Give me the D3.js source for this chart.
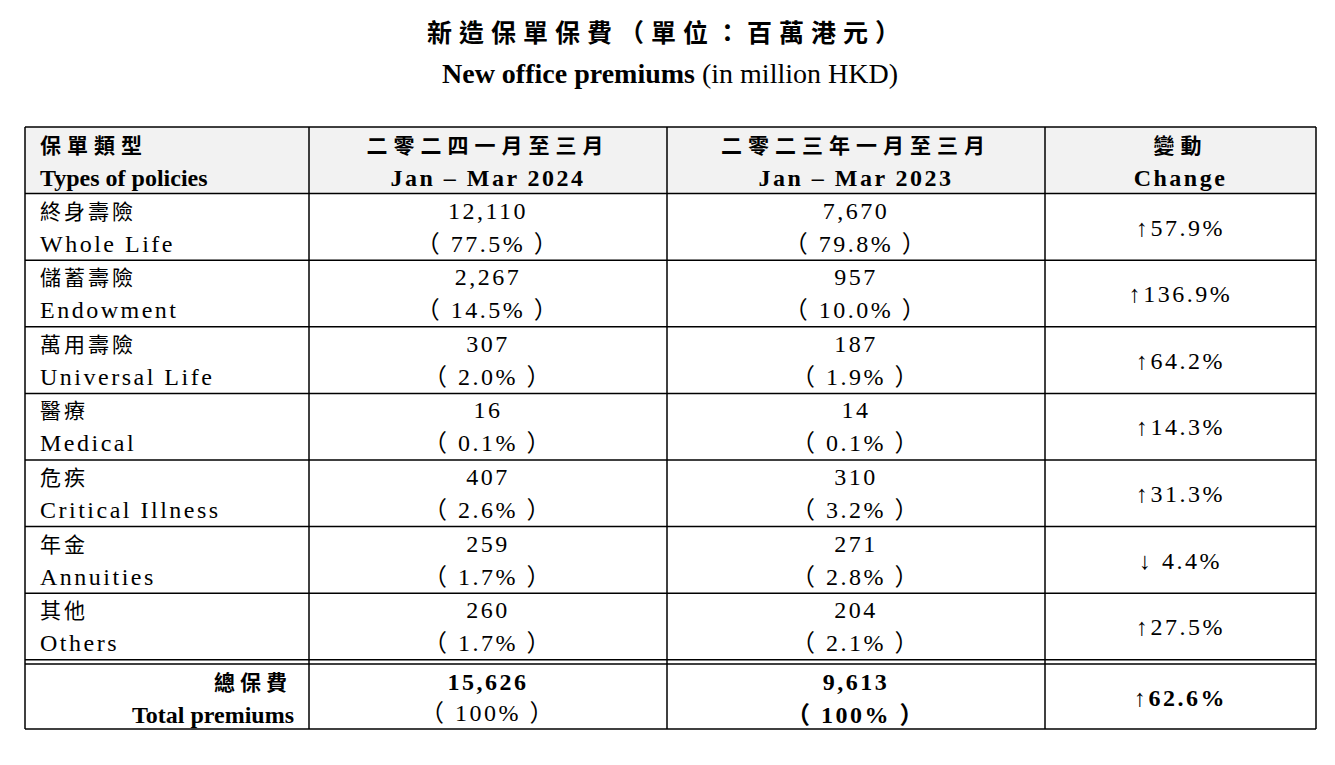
<!DOCTYPE html>
<html><head><meta charset="utf-8">
<script src="https://cdn.jsdelivr.net/npm/d3@7"></script>
<style>
body{margin:0;background:#fff}
text{font-family:"Liberation Serif","Noto Sans CJK TC",serif;fill:#000}
</style></head><body>
<svg id="c" width="1335" height="765"></svg>
<script>
// data
var typesZh = ["終身壽險","儲蓄壽險","萬用壽險","醫療","危疾","年金","其他"];
var typesEn = ["Whole Life","Endowment","Universal Life","Medical","Critical Illness","Annuities","Others"];
var prem2024 = [12110, 2267, 307, 16, 407, 259, 260];
var share2024 = ["77.5%","14.5%","2.0%","0.1%","2.6%","1.7%","1.7%"];
var prem2023 = [7670, 957, 187, 14, 310, 271, 204];
var share2023 = ["79.8%","10.0%","1.9%","0.1%","3.2%","2.8%","2.1%"];
var changes = ["↑57.9%","↑136.9%","↑64.2%","↑14.3%","↑31.3%","↓ 4.4%","↑27.5%"];
var total2024 = 15626, total2023 = 9613, totalChange = "↑62.6%";
var headZh = ["保單類型","二零二四一月至三月","二零二三年一月至三月","變動"];
var headEn = ["Types of policies","Jan – Mar 2024","Jan – Mar 2023","Change"];

var svg = d3.select("#c");
var fmt = d3.format(",");
var colX = [25, 309, 667, 1045, 1316];
var rowY = d3.range(9).map(function(i){ return 127 + i * 66.6; });
var totalTop = 664, bottom = 729;
var mid = function(i){ return (colX[i] + colX[i+1]) / 2; };
var paren = function(s){ return "（ " + s + " ）"; };

svg.append("text").attr("x", 667).attr("y", 42).attr("text-anchor","middle")
  .style("font-size","25px").style("font-weight","bold").style("letter-spacing","7px")
  .style("font-family","'Noto Sans CJK TC'").text("新造保單保費（單位：百萬港元）");
var t2 = svg.append("text").attr("x", 670).attr("y", 83).attr("text-anchor","middle").style("font-size","28px");
t2.append("tspan").style("font-weight","bold").text("New office premiums");
t2.append("tspan").text(" (in million HKD)");

svg.append("rect").attr("x", colX[0]).attr("y", rowY[0]).attr("width", colX[4]-colX[0])
  .attr("height", rowY[1]-rowY[0]).attr("fill","#f2f2f2");

// header
headZh.forEach(function(s, i){
  var x = i === 0 ? 40 : mid(i), a = i === 0 ? "start" : "middle";
  svg.append("text").attr("x", x).attr("y", rowY[0]+26).attr("text-anchor", a)
    .style("font-size","21px").style("font-weight","bold").style("letter-spacing","6px")
    .style("font-family","'Noto Sans CJK TC'").text(s);
  svg.append("text").attr("x", x).attr("y", rowY[0]+59).attr("text-anchor", a)
    .style("font-size","24px").style("font-weight","bold").style("letter-spacing", i===0?"0px":"2.5px").text(headEn[i]);
});

// body rows
var ls = "2.5px";
typesZh.forEach(function(z, r){
  var top = rowY[r+1];
  var g = svg.append("g").style("font-size","24px").style("letter-spacing", ls);
  g.append("text").attr("x", 40).attr("y", top+25).style("font-family","'Noto Sans CJK TC'").style("font-size","21px").style("letter-spacing","3px").text(z);
  g.append("text").attr("x", 40).attr("y", top+58).text(typesEn[r]);
  g.append("text").attr("x", mid(1)).attr("y", top+25).attr("text-anchor","middle").text(fmt(prem2024[r]));
  g.append("text").attr("x", mid(1)).attr("y", top+58).attr("text-anchor","middle").text(paren(share2024[r]));
  g.append("text").attr("x", mid(2)).attr("y", top+25).attr("text-anchor","middle").text(fmt(prem2023[r]));
  g.append("text").attr("x", mid(2)).attr("y", top+58).attr("text-anchor","middle").text(paren(share2023[r]));
  g.append("text").attr("x", mid(3)).attr("y", top+42).attr("text-anchor","middle").text(changes[r]);
});

// total row
var tg = svg.append("g").style("font-size","24px").style("letter-spacing", ls);
tg.append("text").attr("x", 292).attr("y", totalTop+26).attr("text-anchor","end").style("font-weight","bold")
  .style("font-family","'Noto Sans CJK TC'").style("font-size","21px").style("letter-spacing","5px").text("總保費");
tg.append("text").attr("x", 294).attr("y", totalTop+59).attr("text-anchor","end").style("font-weight","bold").style("letter-spacing","0px").text("Total premiums");
tg.append("text").attr("x", mid(1)).attr("y", totalTop+26).attr("text-anchor","middle").style("font-weight","bold").text(fmt(total2024));
tg.append("text").attr("x", mid(1)).attr("y", totalTop+57).attr("text-anchor","middle").text(paren("100%"));
tg.append("text").attr("x", mid(2)).attr("y", totalTop+26).attr("text-anchor","middle").style("font-weight","bold").text(fmt(total2023));
tg.append("text").attr("x", mid(2)).attr("y", totalTop+59).attr("text-anchor","middle").style("font-weight","bold").text(paren("100%"));
tg.append("text").attr("x", mid(3)).attr("y", totalTop+42).attr("text-anchor","middle").style("font-weight","bold").text(totalChange);

// grid lines
var line = function(x1,y1,x2,y2){ svg.append("line").attr("x1",x1).attr("y1",y1).attr("x2",x2).attr("y2",y2).attr("stroke","#000").attr("stroke-width",1.5); };
rowY.forEach(function(y){ line(colX[0], y, colX[4], y); });
line(colX[0], totalTop, colX[4], totalTop);
line(colX[0], bottom, colX[4], bottom);
colX.forEach(function(x){ line(x, rowY[0], x, bottom); });
</script></body></html>
